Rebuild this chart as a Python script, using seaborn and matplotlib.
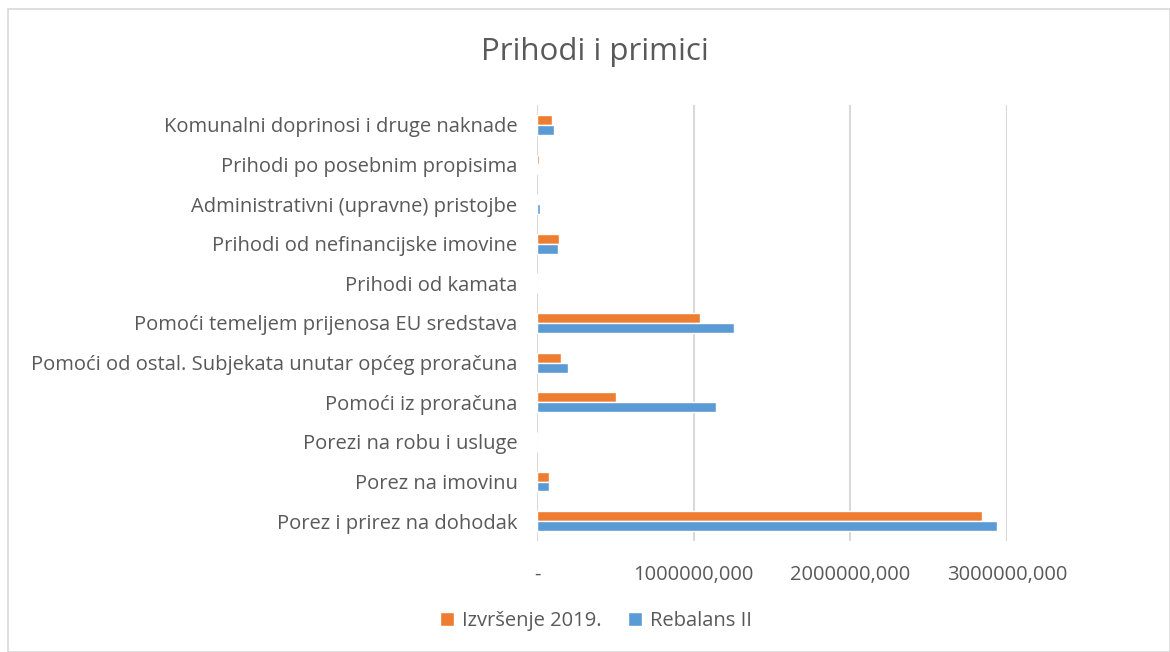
import numpy as np
import pandas as pd
import matplotlib
matplotlib.use("Agg")
import matplotlib.pyplot as plt
from matplotlib.patches import Rectangle
from matplotlib.ticker import FuncFormatter
import seaborn as sns

categories = [
    "Komunalni doprinosi i druge naknade",
    "Prihodi po posebnim propisima",
    "Administrativni (upravne) pristojbe",
    "Prihodi od nefinancijske imovine",
    "Prihodi od kamata",
    "Pomoći temeljem prijenosa EU sredstava",
    "Pomoći od ostal. Subjekata unutar općeg proračuna",
    "Pomoći iz proračuna",
    "Porezi na robu i usluge",
    "Porez na imovinu",
    "Porez i prirez na dohodak",
]
izvrsenje_2019 = [93000, 10000, 2000, 138000, 500, 1043000, 153000, 503000, 2000, 78000, 2840000]
rebalans_ii = [108000, 5000, 17000, 136000, 500, 1258000, 198000, 1145000, 1000, 78000, 2936000]
series_names = ["Izvršenje 2019.", "Rebalans II"]
colors = ["#ED7D31", "#5B9BD5"]

df = pd.DataFrame({
    "kategorija": categories * 2,
    "iznos": izvrsenje_2019 + rebalans_ii,
    "serija": [series_names[0]] * len(categories) + [series_names[1]] * len(categories),
})

sns.set_style("white")
plt.rcParams["font.family"] = ["Open Sans", "DejaVu Sans"]
text_color = "#595959"

fig = plt.figure(figsize=(11.7, 6.52), dpi=100)
ax = fig.add_axes([537 / 1170, 1 - 541 / 652, (1007 - 537) / 1170, (541 - 105) / 652])

sns.barplot(
    data=df, y="kategorija", x="iznos", hue="serija", order=categories,
    hue_order=series_names, palette=colors, width=0.5, orient="h",
    saturation=1, ax=ax, zorder=3,
)

ax.set_xlim(0, 3000000)
ax.set_xticks([0, 1000000, 2000000, 3000000])
ax.xaxis.set_major_formatter(FuncFormatter(lambda v, p: "-" if v == 0 else f"{int(v)},000"))
ax.grid(axis="x", color="#D9D9D9", linewidth=1.5, zorder=0)
ax.grid(axis="y", visible=False)
for s in ax.spines.values():
    s.set_visible(False)
ax.set_xlabel("")
ax.set_ylabel("")
ax.tick_params(axis="both", length=0, colors=text_color)
ax.tick_params(axis="x", pad=17, labelsize=14.5)
ax.tick_params(axis="y", pad=14, labelsize=14.5)

leg = ax.legend(
    loc="center", bbox_to_anchor=(596 / 1170, 1 - 621 / 652), bbox_transform=fig.transFigure,
    ncol=2, frameon=False, fontsize=14.5, handlelength=0.7, handleheight=0.7,
    columnspacing=1.3, handletextpad=0.4,
)
for t in leg.get_texts():
    t.set_color(text_color)

fig.text(595 / 1170, 1 - 52 / 652, "Prihodi i primici", ha="center", va="center",
         fontsize=22.5, color=text_color)

fig.patches.append(Rectangle((8 / 1170, 0), 1 - 8 / 1170, 1 - 9 / 652, transform=fig.transFigure,
                             fill=False, edgecolor="#D9D9D9", linewidth=1.2))

fig.savefig("out.png", dpi=100)
